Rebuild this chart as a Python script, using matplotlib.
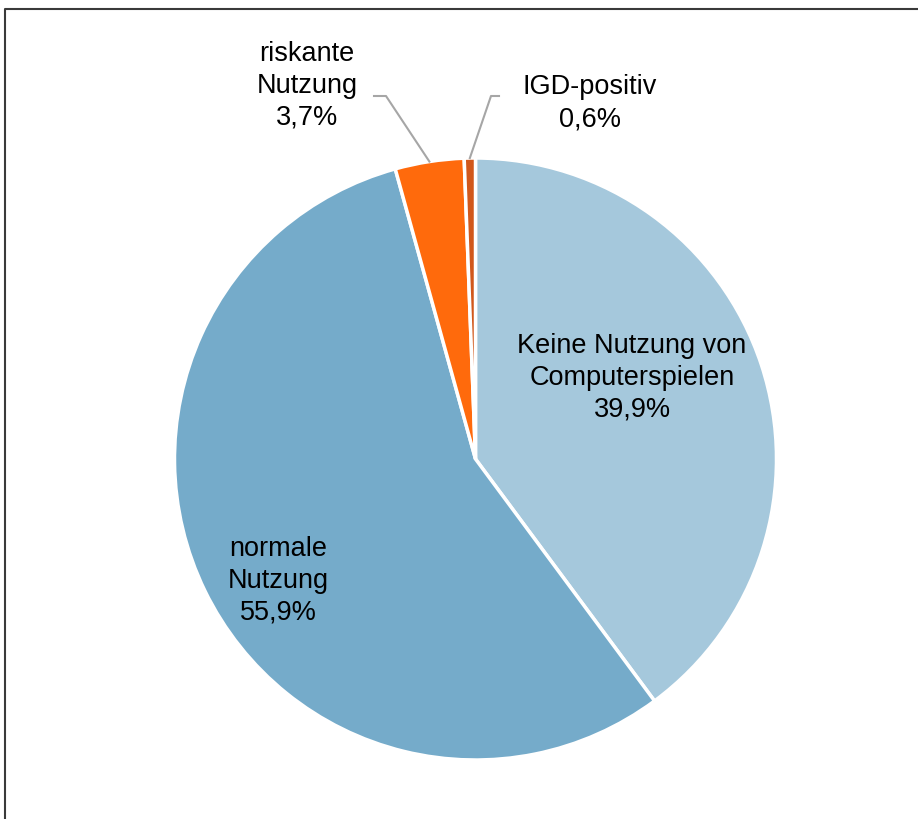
import numpy as np
import matplotlib.pyplot as plt
from matplotlib.lines import Line2D

plt.rcParams['font.family'] = ['Liberation Sans', 'DejaVu Sans']

labels = ["Keine Nutzung von\nComputerspielen", "normale\nNutzung", "riskante\nNutzung", "IGD-positiv"]
values = [39.9, 55.9, 3.7, 0.6]
pct_text = ["39,9%", "55,9%", "3,7%", "0,6%"]
colors = ["#A5C8DC", "#75ABCA", "#FF6A0C", "#D1581C"]

W, H = 918, 820
fig = plt.figure(figsize=(W / 100, H / 100), dpi=100)
ax = fig.add_axes([0, 0, 1, 1])

cx, cy, r = 475.5, H - 460, 301
wedges, _ = ax.pie(values, colors=colors, startangle=90, counterclock=False,
                   center=(cx, cy), radius=r, frame=True,
                   wedgeprops=dict(edgecolor="white", linewidth=2.5))
ax.set_xlim(0, W)
ax.set_ylim(0, H)
ax.set_aspect("equal")
ax.axis("off")

fs = 19.5
ls = 1.3
# labels inside the two big slices
ax.text(632, H - 378, labels[0] + "\n" + pct_text[0], ha="center", va="center",
        fontsize=fs, linespacing=ls)
ax.text(278, H - 581, labels[1] + "\n" + pct_text[1], ha="center", va="center",
        fontsize=fs, linespacing=ls)

# outside labels with leader lines
def mid_point(w):
    a = np.deg2rad((w.theta1 + w.theta2) / 2)
    return cx + r * np.cos(a), cy + r * np.sin(a)

x0, y0 = mid_point(wedges[2])
ax.add_line(Line2D([x0, 386, 374], [y0, H - 97, H - 97], color="#A6A6A6", lw=1.5))
ax.text(307, H - 86, labels[2] + "\n" + pct_text[2], ha="center", va="center",
        fontsize=fs, linespacing=ls)

x0, y0 = mid_point(wedges[3])
ax.add_line(Line2D([x0, 491, 499], [y0, H - 97, H - 97], color="#A6A6A6", lw=1.5))
ax.text(590, H - 103, labels[3] + "\n" + pct_text[3], ha="center", va="center",
        fontsize=fs, linespacing=ls)

# frame around the chart area
fig.add_artist(Line2D([5, 5, W], [0, H - 10, H - 10], transform=None,
                      color="#3A3A3A", lw=1.5))

fig.savefig("out.png", dpi=100)
